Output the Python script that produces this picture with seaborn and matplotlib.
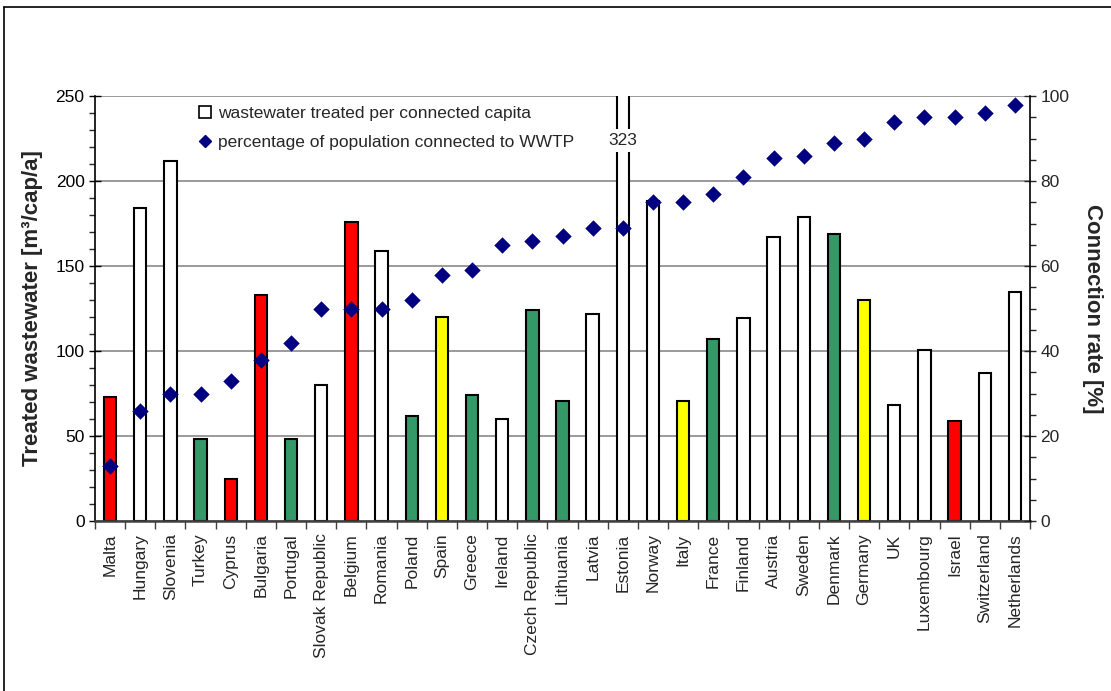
import matplotlib
matplotlib.use("Agg")
import matplotlib.pyplot as plt
import numpy as np
import pandas as pd
import seaborn as sns
from matplotlib.lines import Line2D
from matplotlib.ticker import MultipleLocator

sns.set_style("white")
plt.rcParams["font.family"] = ["Liberation Sans", "DejaVu Sans"]

countries = ["Malta", "Hungary", "Slovenia", "Turkey", "Cyprus", "Bulgaria", "Portugal",
             "Slovak Republic", "Belgium", "Romania", "Poland", "Spain", "Greece", "Ireland",
             "Czech Republic", "Lithuania", "Latvia", "Estonia", "Norway", "Italy", "France",
             "Finland", "Austria", "Sweden", "Denmark", "Germany", "UK", "Luxembourg", "Israel",
             "Switzerland", "Netherlands"]

# wastewater treated per connected capita [m3/cap/a]
treated = [73, 184, 212, 48.5, 25, 133, 48, 80, 176, 159, 62, 120, 74, 60, 124, 70.5,
           122, 323, 188, 70.5, 107, 119.5, 167, 179, 169, 130, 68.5, 100.5, 59, 87, 135]

# percentage of population connected to WWTP
connected = [13, 26, 30, 30, 33, 38, 42, 50, 50, 50, 52, 58, 59, 65, 66, 67,
             69, 69, 75, 75, 77, 81, 85.5, 86, 89, 90, 94, 95, 95, 96, 98]

# bar fill group per country
groups = ["red", "white", "white", "green", "red", "red", "green", "white", "red", "white",
          "green", "yellow", "green", "white", "green", "green", "white", "white", "white",
          "yellow", "green", "white", "white", "white", "green", "yellow", "white", "white",
          "red", "white", "white"]

group_colors = {"white": "#FFFFFF", "red": "#FF0000", "green": "#339966", "yellow": "#FFFF00"}

df = pd.DataFrame({"country": countries, "treated": treated,
                   "connected": connected, "group": groups})
df["pos"] = np.arange(len(df))
palette = {c: group_colors[g] for c, g in zip(countries, groups)}

fig = plt.figure(figsize=(11.11, 6.91), dpi=100)
ax = fig.add_axes([95 / 1111, 1 - 521 / 691, 935 / 1111, 425 / 691])

sns.barplot(data=df, x="country", y="treated", hue="country", palette=palette,
            legend=False, width=0.41, edgecolor="black", linewidth=1.5, saturation=1,
            ax=ax, zorder=2)

ax.set_xlim(-0.5, len(df) - 0.5)
ax.set_ylim(0, 250)
ax.yaxis.set_major_locator(MultipleLocator(50))
ax.yaxis.set_minor_locator(MultipleLocator(10))
ax.yaxis.grid(True, which="major", color="#7f7f7f", lw=1.1)
ax.set_axisbelow(True)

ax.tick_params(axis="y", which="major", direction="inout", length=8, width=1,
               labelsize=12.5, colors="black", left=True)
ax.tick_params(axis="y", which="minor", direction="out", length=4, width=1, left=True)
ax.set_xticks(df["pos"])
ax.set_xticklabels(countries, rotation=90, fontsize=12.5)
ax.tick_params(axis="x", which="major", length=0, pad=9)
ax.set_xticks(np.arange(-0.5, len(df), 1), minor=True)
ax.tick_params(axis="x", which="minor", direction="out", length=6, width=1,
               color="#404040", bottom=True)

for side in ["top", "right"]:
    ax.spines[side].set_visible(False)
ax.spines["left"].set_color("black")
ax.spines["left"].set_linewidth(1.2)
ax.spines["bottom"].set_color("#404040")
ax.spines["bottom"].set_linewidth(1.8)

ax.set_xlabel("")
ax.set_ylabel("Treated wastewater [m³/cap/a]", fontsize=16, fontweight="bold")
ax.yaxis.set_label_coords(-0.056, 0.5)

# value of the bar that runs past the top of the scale
est = countries.index("Estonia")
ax.text(est, 224, f"{treated[est]:g}", ha="center", va="center", fontsize=12.5,
        bbox=dict(facecolor="white", edgecolor="none", pad=3), zorder=6)

ax2 = ax.twinx()
sns.scatterplot(data=df, x="pos", y="connected", marker="D", s=70, color="#000080",
                edgecolor="#000080", linewidth=0, ax=ax2, zorder=5, legend=False)
ax2.set_ylim(0, 100)
ax2.set_xlim(-0.5, len(df) - 0.5)
ax2.yaxis.set_major_locator(MultipleLocator(20))
ax2.yaxis.set_minor_locator(MultipleLocator(5))
ax2.tick_params(axis="y", which="major", direction="inout", length=8, width=1,
                labelsize=12.5, right=True)
ax2.tick_params(axis="y", which="minor", direction="out", length=4, width=1, right=True)
for side in ["top", "left", "bottom"]:
    ax2.spines[side].set_visible(False)
ax2.spines["right"].set_color("black")
ax2.spines["right"].set_linewidth(1.2)
ax2.set_xlabel("")
ax2.set_ylabel("Connection rate [%]", fontsize=16, fontweight="bold", rotation=270)
ax2.yaxis.set_label_coords(1.078, 0.5)

handles = [
    Line2D([], [], marker="s", linestyle="None", markerfacecolor="white",
           markeredgecolor="black", markeredgewidth=1.2, markersize=9),
    Line2D([], [], marker="D", linestyle="None", markerfacecolor="#000080",
           markeredgecolor="#000080", markersize=6.5),
]
labels = ["wastewater treated per connected capita",
          "percentage of population connected to WWTP"]
ax2.legend(handles, labels, loc="upper left", bbox_to_anchor=(0.107, 0.984),
           frameon=False, fontsize=12.5, handlelength=0.8, handletextpad=0.3,
           labelspacing=0.78, borderpad=0.2, borderaxespad=0)

# chart area border
fig.add_artist(Line2D([4 / 1111, 4 / 1111], [0, 1 - 7 / 691], color="black", lw=1.2,
                      transform=fig.transFigure))
fig.add_artist(Line2D([4 / 1111, 1], [1 - 7 / 691, 1 - 7 / 691], color="black", lw=1.2,
                      transform=fig.transFigure))

fig.savefig("out.png", dpi=100)
